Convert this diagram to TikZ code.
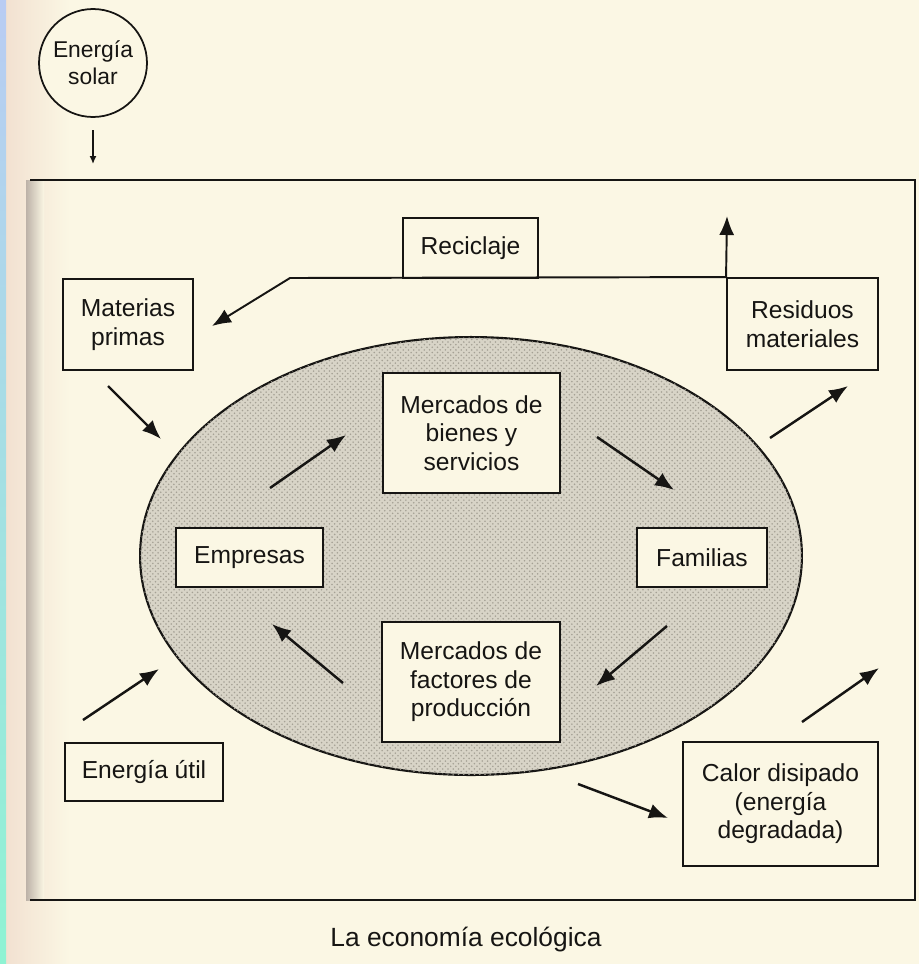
\documentclass[tikz,border=0pt]{standalone}
\usepackage{fontspec}
\setmainfont{Liberation Sans}
\usetikzlibrary{arrows.meta,shapes.geometric,patterns}
\definecolor{paper}{HTML}{FBF7E4}
\definecolor{peach}{HTML}{F2E1D1}
\definecolor{ink}{HTML}{161513}
\definecolor{stipple}{HTML}{D8D4C7}
\definecolor{stippledot}{HTML}{A5A195}
\definecolor{edgeblue}{HTML}{B9CCF3}
\definecolor{edgeteal}{HTML}{8FF3D3}
\definecolor{gutter}{HTML}{BDB2A8}
\begin{document}
\begin{tikzpicture}[x=0.02cm,y=-0.02cm,
  box/.style={draw=ink, line width=1.1pt, fill=paper, inner sep=0pt,
    align=center, text=ink, font=\fontsize{14}{16.2}\selectfont},
  flow/.style={draw=ink, line width=1.4pt,
    -{Latex[length=0.38cm,width=0.3cm]}},
  thin flow/.style={draw=ink, line width=0.8pt,
    -{Latex[length=0.16cm,width=0.14cm]}},
]
\useasboundingbox (0,0) rectangle (919,964);

% paper, with the tinted page edge on the left
\fill[paper] (0,0) rectangle (919,964);
\shade[left color=peach, right color=paper] (6,0) rectangle (70,964);
\shade[top color=edgeblue, bottom color=edgeteal] (0,0) rectangle (6,964);

% the surrounding system
\shade[left color=gutter, right color=paper] (26,180) rectangle (44,900);
\draw[ink, line width=1pt] (30,180) -- (915,180) -- (915,900) -- (30,900);

% the economy
\node[ellipse, draw=ink, line width=1.2pt, fill=stipple,
  postaction={pattern=crosshatch dots, pattern color=stippledot},
  minimum width=13.24cm, minimum height=8.76cm, inner sep=0pt]
  (econ) at (471,556) {};

% boxes
\node[circle, draw=ink, line width=1pt, fill=paper, inner sep=0pt,
  minimum size=2.16cm, align=center, text=ink,
  font=\fontsize{13}{15.5}\selectfont] (solar) at (93,63) {Energía\\solar};
\node[box, minimum width=2.6cm, minimum height=1.82cm] (matp) at (128,324.5) {Materias\\primas};
\node[box, minimum width=2.7cm, minimum height=1.2cm] (recic) at (470.5,248) {Reciclaje};
\node[box, minimum width=3.02cm, minimum height=1.84cm] (resid) at (802.5,324) {Residuos\\materiales};
\node[box, minimum width=3.54cm, minimum height=2.4cm] (bienes) at (471.5,433) {Mercados de\\bienes y\\servicios};
\node[box, minimum width=2.94cm, minimum height=1.18cm] (empr) at (249.5,557.5) {Empresas};
\node[box, minimum width=2.6cm, minimum height=1.18cm] (fam) at (702,557.5) {Familias};
\node[box, minimum width=3.56cm, minimum height=2.4cm] (fact) at (471,682) {Mercados de\\factores de\\producción};
\node[box, minimum width=3.16cm, minimum height=1.16cm] (util) at (144,772) {Energía útil};
\node[box, minimum width=3.9cm, minimum height=2.48cm] (calor) at (780.5,804) {Calor disipado\\(energía\\degradada)};

\node[text=ink, font=\fontsize{15}{18}\selectfont] (title) at (466,940) {La economía ecológica};

% end points of the flows
\coordinate (solarA) at (93,130);   \coordinate (solarB) at (93,164);
\coordinate (matpA) at (108,386);   \coordinate (matpB) at (161,439);
\coordinate (emprA) at (270,488);   \coordinate (emprB) at (346,435);
\coordinate (bienA) at (597,437);   \coordinate (bienB) at (674,490);
\coordinate (famA) at (667,626);    \coordinate (famB) at (596,686);
\coordinate (factA) at (343,683);   \coordinate (factB) at (272,624);
\coordinate (utilA) at (83,720);    \coordinate (utilB) at (159,669);
\coordinate (resA) at (770,438);    \coordinate (resB) at (848,386);
\coordinate (calA) at (578,784);    \coordinate (calB) at (668,818);
\coordinate (outA) at (802,722);    \coordinate (outB) at (879,668);
\coordinate (recBend) at (290,278); \coordinate (recEnd) at (212,326);
\coordinate (vent) at (727,216);

% flows
\draw[thin flow] (solarA) -- (solarB);
\draw[flow] (matpA) -- (matpB);
\draw[flow] (emprA) -- (emprB);
\draw[flow] (bienA) -- (bienB);
\draw[flow] (famA) -- (famB);
\draw[flow] (factA) -- (factB);
\draw[flow] (utilA) -- (utilB);
\draw[flow] (resA) -- (resB);
\draw[flow] (calA) -- (calB);
\draw[flow] (outA) -- (outB);
\draw[flow, line width=1.1pt, line join=miter] (resid.north west) -- (recBend) -- (recEnd);
\draw[flow, line width=1.1pt] (resid.north west) -- (vent);
\end{tikzpicture}
\end{document}
